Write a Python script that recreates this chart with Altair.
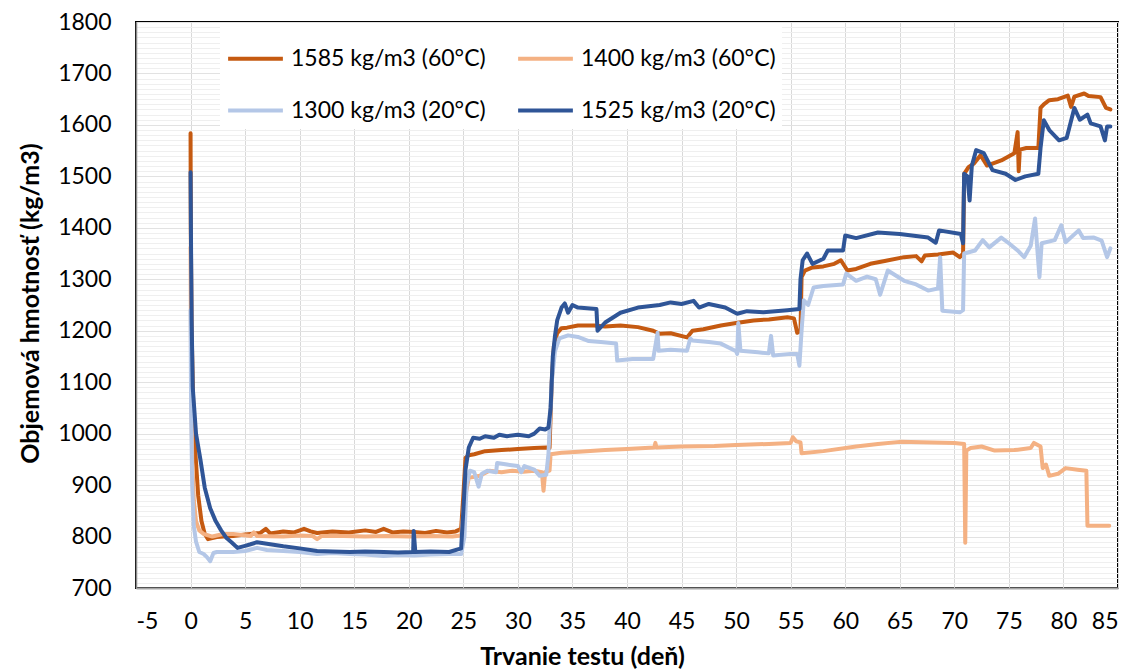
import altair as alt
import pandas as pd

# ---- data ----
# legend order (column-major in the legend grid): 1585, 1300 | 1400, 1525
names = ["1585 kg/m3 (60°C)", "1300 kg/m3 (20°C)", "1400 kg/m3 (60°C)", "1525 kg/m3 (20°C)"]
colors = ["#C55A11", "#B4C7E7", "#F4B183", "#2F5597"]
draw_order = ["1585 kg/m3 (60°C)", "1400 kg/m3 (60°C)", "1300 kg/m3 (20°C)", "1525 kg/m3 (20°C)"]

x_1585 = [0, 0.02, 0.1, 0.25, 0.45, 0.7, 1.0, 1.3, 1.6, 2.0, 2.4, 3.0, 3.9, 5.0, 6.4, 6.9, 7.3, 8.5, 9.5,
          10.4, 11.0, 11.6, 13.0, 14.5, 16.0, 17.0, 17.7, 18.5, 19.5, 20.5, 21.5, 22.5, 23.5, 24.3, 24.8,
          25.0, 25.2, 25.5, 26.0, 27.0, 28.5, 30.0, 31.5, 32.6, 32.9, 33.1, 33.3, 33.6, 34.0, 34.5, 35.5,
          37.0, 38.0, 39.4, 41.0, 42.4, 43.0, 44.0, 45.5, 46.0, 47.0, 48.6, 50.0, 51.6, 53.0, 54.7, 55.3,
          55.6, 55.9, 56.0, 56.3, 57.0, 58.0, 59.0, 59.6, 60.2, 61.0, 62.3, 63.5, 65.4, 66.5, 67.0, 67.3,
          68.5, 69.9, 70.5, 70.8, 70.9, 71.3, 71.8, 72.4, 73.0, 74.3, 75.5, 75.8, 75.9, 76.0, 76.6, 77.7,
          77.9, 78.2, 78.7, 79.5, 80.4, 80.7, 81.0, 81.9, 82.3, 83.4, 83.9, 84.3]
y_1585 = [1584, 1400, 1200, 1050, 960, 880, 830, 805, 795, 797, 799, 800, 801, 804, 807, 815, 806, 810, 808,
          815, 810, 807, 810, 808, 812, 809, 815, 808, 810, 809, 807, 811, 808, 810, 815,
          880, 953, 958, 960, 966, 968, 970, 972, 973, 972, 1100, 1170, 1195, 1205, 1206, 1210,
          1210, 1208, 1210, 1207, 1200, 1194, 1195, 1187, 1200, 1203, 1210, 1215, 1220, 1222, 1226, 1224,
          1196, 1200, 1304, 1317, 1323, 1325, 1330, 1337, 1317, 1320, 1330, 1335, 1343, 1345, 1335, 1346,
          1348, 1352, 1343, 1350, 1505, 1518, 1525, 1541, 1521, 1531, 1545, 1586, 1510, 1552, 1555, 1555,
          1633, 1640, 1648, 1650, 1657, 1635, 1655, 1661, 1656, 1654, 1633, 1630]

x_1400 = [0, 0.05, 0.15, 0.3, 0.5, 0.8, 1.2, 2.0, 3.0, 3.9, 5.5, 5.8, 6.1, 8.5, 10.0, 11.2, 11.6, 12.0, 14.0,
          16.0, 18.0, 20.0, 22.0, 24.0, 24.8, 25.1, 25.5, 26.5, 27.4, 28.5, 29.5, 30.5, 31.5, 32.2, 32.35,
          32.5, 32.9, 33.0, 34.0, 35.6, 38.0, 40.0, 42.5, 42.6, 42.7, 45.0, 48.0, 50.0, 53.0, 55.0, 55.2,
          55.5, 55.9, 56.0, 58.0, 61.0, 63.0, 65.0, 68.0, 70.0, 70.9, 71.0, 71.1, 71.5, 72.5, 73.7, 75.5,
          77.0, 77.3, 77.9, 78.1, 78.4, 78.7, 79.5, 80.2, 81.3, 82.1, 82.2, 84.2]
y_1400 = [1362, 1100, 950, 870, 830, 812, 805, 800, 805, 805, 801, 808, 801, 800, 802, 801, 795, 801, 801,
          800, 801, 800, 801, 800, 802, 870, 914, 918, 928, 925, 928, 926, 928, 925, 889,
          925, 928, 960, 963, 965, 968, 970, 973, 982, 973, 975, 976, 978, 980, 982, 993,
          985, 983, 962, 966, 975, 980, 984, 983, 982, 980, 788, 967, 972, 975, 967, 968,
          972, 982, 975, 933, 940, 918, 922, 933, 930, 928, 821, 821]

x_1300 = [0, 0.05, 0.15, 0.3, 0.5, 0.8, 1.2, 1.5, 1.8, 2.1, 2.4, 3.9, 5.0, 6.1, 7.0, 8.5, 10.0, 11.6, 13.0,
          14.6, 16.0, 17.7, 19.0, 20.5, 22.0, 23.7, 24.8, 25.1, 25.3, 25.6, 26.0, 26.4, 26.7, 27.2, 28.0,
          28.1, 29.0, 30.0, 30.3, 30.6, 31.5, 32.0, 32.6, 32.8, 33.1, 33.4, 33.8, 34.6, 35.5, 36.5, 37.6,
          39.0, 39.1, 40.5, 42.4, 42.8, 42.9, 44.0, 45.5, 45.8, 46.0, 47.5, 48.6, 50.0, 50.1, 50.2, 50.4,
          52.0, 53.0, 53.2, 53.4, 55.0, 55.6, 55.8, 56.0, 56.2, 56.6, 57.1, 58.0, 59.8, 60.1, 61.0, 62.0,
          62.8, 63.2, 63.9, 65.4, 66.5, 67.6, 68.5, 68.7, 68.9, 70.5, 70.8, 70.9, 71.9, 72.6, 73.2, 74.3,
          75.0, 75.8, 76.4, 77.0, 77.4, 77.6, 77.8, 78.0, 79.2, 79.8, 80.2, 81.4, 81.8, 82.8, 83.5, 84.0, 84.3]
y_1300 = [1240, 1050, 900, 820, 790, 770, 766, 760, 752, 768, 770, 770, 772, 778, 774, 772, 770, 766, 768,
          766, 765, 762, 764, 763, 765, 766, 766, 800, 900, 928, 925, 897, 922, 928, 925,
          943, 940, 937, 925, 937, 930, 918, 920, 960, 1100, 1160, 1185, 1191, 1188, 1180, 1178,
          1175, 1142, 1145, 1145, 1196, 1161, 1163, 1161, 1185, 1181, 1178, 1175, 1160, 1155, 1215, 1161,
          1158, 1156, 1190, 1152, 1155, 1155, 1132, 1200, 1259, 1250, 1284, 1287, 1290, 1311, 1297, 1305,
          1300, 1270, 1317, 1297, 1290, 1278, 1282, 1343, 1239, 1236, 1240, 1350, 1356, 1376, 1362, 1381,
          1370, 1356, 1343, 1365, 1418, 1360, 1304, 1370, 1376, 1405, 1372, 1395, 1380, 1381, 1375, 1343, 1360]

x_1525 = [0, 0.05, 0.1, 0.2, 0.5, 0.9, 1.3, 1.8, 2.3, 2.8, 3.3, 3.8, 4.3, 5.0, 5.5, 6.1, 7.0, 8.5, 10.0,
          11.6, 13.0, 14.6, 16.0, 17.7, 19.0, 20.4, 20.45, 20.6, 22.0, 23.7, 24.8, 25.0, 25.2, 25.5, 25.9,
          26.5, 27.0, 27.8, 28.3, 29.0, 30.0, 31.0, 31.5, 32.0, 32.5, 32.8, 33.0, 33.2, 33.4, 33.6, 34.0,
          34.3, 34.6, 35.0, 35.5, 37.2, 37.3, 38.0, 39.4, 41.0, 43.0, 44.0, 45.0, 46.1, 46.6, 47.5, 49.0,
          50.1, 51.0, 52.5, 54.7, 55.8, 55.9, 56.1, 56.5, 57.0, 58.0, 58.4, 59.8, 60.0, 61.0, 63.0, 65.0,
          67.6, 68.3, 68.6, 70.6, 70.8, 70.9, 71.2, 71.4, 71.6, 72.0, 72.7, 73.5, 74.7, 75.6, 76.5, 77.7,
          77.9, 78.2, 78.7, 79.6, 80.3, 81.0, 81.5, 82.2, 82.5, 83.4, 83.8, 84.0, 84.3]
y_1525 = [1508, 1350, 1220, 1090, 1000, 950, 895, 855, 830, 812, 797, 788, 778, 782, 785, 789, 786, 781, 777,
          772, 771, 770, 771, 770, 769, 770, 811, 770, 771, 770, 777, 850, 930, 973, 992,
          990, 995, 992, 998, 995, 998, 995, 1000, 1010, 1008, 1012, 1050, 1150, 1190, 1220, 1245,
          1253, 1235, 1250, 1245, 1242, 1200, 1216, 1235, 1245, 1250, 1255, 1252, 1258, 1245, 1252, 1245,
          1233, 1238, 1236, 1240, 1242, 1300, 1337, 1350, 1330, 1340, 1356, 1356, 1385, 1380, 1391, 1388,
          1381, 1371, 1395, 1388, 1370, 1505, 1500, 1453, 1520, 1551, 1545, 1512, 1505, 1493, 1500, 1505,
          1555, 1609, 1590, 1570, 1575, 1633, 1610, 1620, 1603, 1597, 1570, 1597, 1597]

x_ticks = list(range(-5, 90, 5))
y_ticks = list(range(700, 1810, 10))

series = {"1585 kg/m3 (60°C)": (x_1585, y_1585), "1400 kg/m3 (60°C)": (x_1400, y_1400),
          "1300 kg/m3 (20°C)": (x_1300, y_1300), "1525 kg/m3 (20°C)": (x_1525, y_1525)}

frames = []
for name in draw_order:
    xs, ys = series[name]
    frames.append(pd.DataFrame({"series": name, "x": xs, "y": ys, "i": range(len(xs))}))
df = pd.concat(frames, ignore_index=True)

FONT = "Lato"

color_scale = alt.Scale(domain=names, range=colors)
legend = alt.Legend(
    title=None, orient="none", legendX=84, legendY=1, columns=2,
    symbolType="stroke", symbolSize=3000, symbolStrokeWidth=4,
    labelFont=FONT, labelFontSize=23, labelColor="#000000", labelLimit=0, labelOffset=6,
    fillColor="#ffffff", padding=6, columnPadding=24, rowPadding=10,
)

x_axis = alt.Axis(
    values=x_ticks, title="Trvanie testu (deň)", labelExpr="'' + datum.value",
    labelFont=FONT, labelFontSize=23, labelColor="#000000", labelPadding=22, tickSize=0,
    titleFont=FONT, titleFontSize=25, titleFontWeight="bold", titleColor="#000000",
    titleX=446, titleY=68, titleBaseline="middle", titleAlign="center",
    gridColor="#d9d9d9", gridWidth=1, domainColor="#a6a6a6", domainWidth=2,
)
y_axis = alt.Axis(
    values=y_ticks, title="Objemová hmotnosť (kg/m3)",
    labelExpr="datum.value % 100 === 0 ? '' + datum.value : ''",
    labelFont=FONT, labelFontSize=23, labelColor="#000000", labelPadding=25, tickSize=0,
    titleFont=FONT, titleFontSize=25, titleFontWeight="bold", titleColor="#000000",
    titleX=-106, titleY=281, titleBaseline="middle", titleAlign="center",
    gridColor={"condition": {"test": "datum.value % 100 === 0", "value": "#e2e2e2"}, "value": "#efefef"},
    gridWidth=1, domainColor="#8c8c8c", domainWidth=1.5,
)

layers = []
for name in draw_order:
    layers.append(
        alt.Chart(df[df["series"] == name]).mark_line(strokeWidth=4, strokeJoin="round", strokeCap="round").encode(
            x=alt.X("x:Q", scale=alt.Scale(domain=[-5, 85], nice=False, zero=False), axis=x_axis),
            y=alt.Y("y:Q", scale=alt.Scale(domain=[700, 1800], nice=False, zero=False), axis=y_axis),
            color=alt.Color("series:N", scale=color_scale, legend=legend),
            order=alt.Order("i:Q"),
        )
    )

chart = alt.layer(*layers).properties(
    width=982, height=566,
    autosize=alt.AutoSizeParams(type="none"),
    padding={"left": 128, "top": 14, "right": 8, "bottom": 82},
    background="#ffffff",
).configure_view(stroke="#000000", strokeWidth=2)

chart.save("out.html", embed_options={"renderer": "svg", "actions": False})
